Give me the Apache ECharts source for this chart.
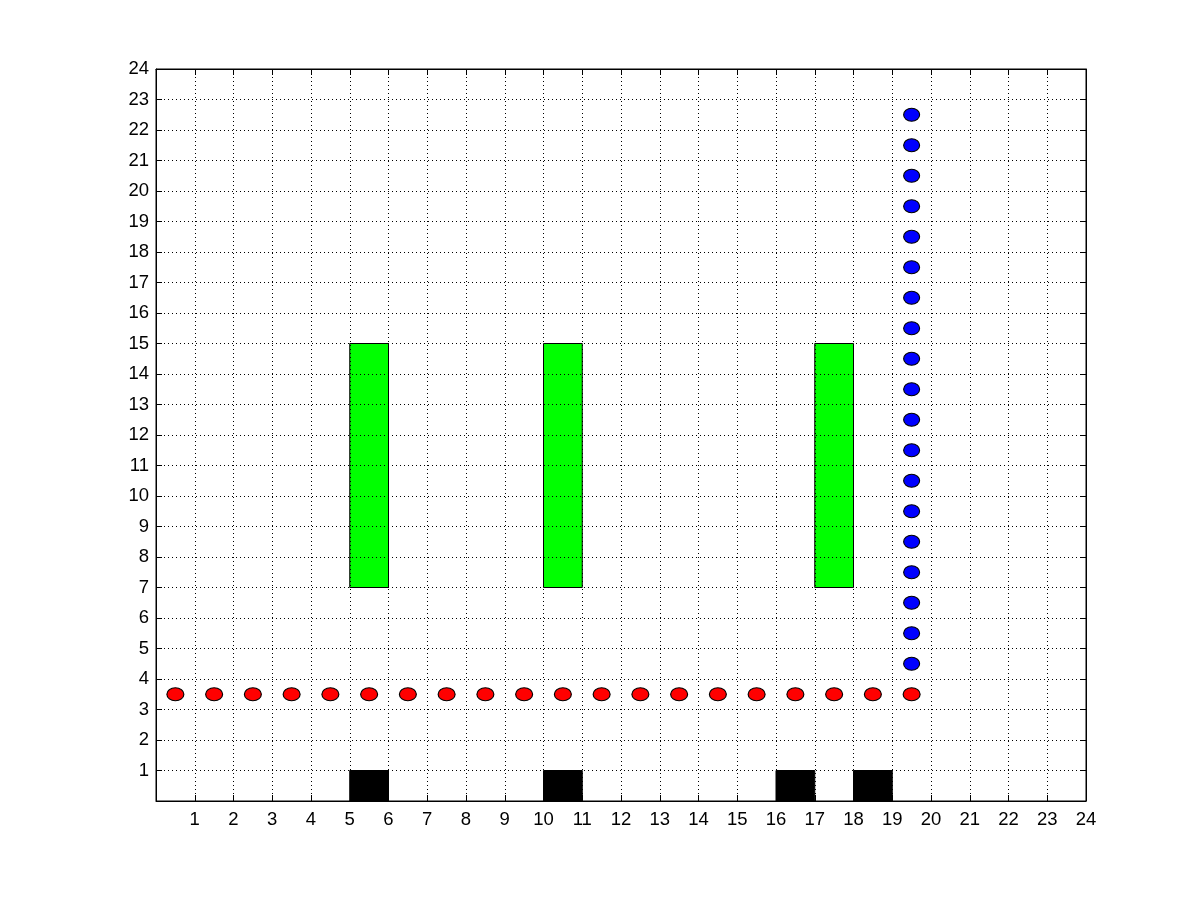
<!DOCTYPE html>
<html><head><meta charset="utf-8">
<script src="https://cdn.jsdelivr.net/npm/echarts@6/dist/echarts.min.js"></script>
<style>html,body{margin:0;padding:0;background:#fff}#c{width:1200px;height:900px}</style>
</head><body><div id="c"></div>
<script>
// Data
const redX = [0.5,1.5,2.5,3.5,4.5,5.5,6.5,7.5,8.5,9.5,10.5,11.5,12.5,13.5,14.5,15.5,16.5,17.5,18.5,19.5];
const redY = 3.5;
const blueX = 19.5;
const blueY = [4.5,5.5,6.5,7.5,8.5,9.5,10.5,11.5,12.5,13.5,14.5,15.5,16.5,17.5,18.5,19.5,20.5,21.5,22.5];
// rectangles: [x0, x1, y0, y1]
const greenRects = [[5,6,7,15],[10,11,7,15],[17,18,7,15]];
const blackRects = [[5,6,0,1],[10,11,0,1],[16,17,0,1],[18,19,0,1]];
const axisMin = 0, axisMax = 24, tickStep = 1;

const chart = echarts.init(document.getElementById('c'), null, {renderer:'canvas'});
const font = {color:'#000', fontSize:18.5, fontFamily:'Liberation Sans, Arial, sans-serif'};
const hideZero = v => v === 0 ? '' : String(v);

function rectSeries(rects, color) {
  return {
    type:'custom',
    data: rects,
    z: 3,
    renderItem: (params, api) => {
      const p0 = api.coord([api.value(0), api.value(3)]);
      const p1 = api.coord([api.value(1), api.value(2)]);
      return {
        type:'rect',
        shape:{x:p0[0], y:p0[1], width:p1[0]-p0[0], height:p1[1]-p0[1]},
        style:{fill:color, stroke:'#000', lineWidth:1}
      };
    },
    encode:{x:[0,1], y:[2,3]}
  };
}

function axis(extra) {
  return Object.assign({
    type:'value', min:axisMin, max:axisMax, interval:tickStep,
    axisLine:{show:true, onZero:false, lineStyle:{color:'#000', width:1}},
    axisTick:{show:true, inside:true, length:6, lineStyle:{color:'#000', width:1}},
    splitLine:{show:false}
  }, extra);
}

chart.setOption({
  animation:false,
  backgroundColor:'#fff',
  grid:{left:156, right:114, top:69, bottom:99, containLabel:false,
        show:true, borderColor:'#000', borderWidth:1, backgroundColor:'transparent'},
  xAxis:[
    axis({position:'bottom', z:5,
      axisLabel:Object.assign({formatter:hideZero, margin:9}, font),
      splitLine:{show:true, lineStyle:{color:'#000', type:[1,3], width:1}}}),
    axis({position:'top', z:5, axisLabel:{show:false}})
  ],
  yAxis:[
    axis({position:'left', z:5,
      axisLabel:Object.assign({formatter:hideZero, margin:7}, font),
      splitLine:{show:true, lineStyle:{color:'#000', type:[1,3], width:1}}}),
    axis({position:'right', z:5, axisLabel:{show:false}})
  ],
  series:[
    rectSeries(greenRects, '#00ff00'),
    rectSeries(blackRects, '#000000'),
    {
      type:'scatter', z:4,
      data: redX.map(x => [x, redY]),
      symbol:'circle', symbolSize:[17,13],
      itemStyle:{color:'#ff0000', borderColor:'#000', borderWidth:1, opacity:1}
    },
    {
      type:'scatter', z:4,
      data: blueY.map(y => [blueX, y]),
      symbol:'circle', symbolSize:[16,13],
      itemStyle:{color:'#0000ff', borderColor:'#000', borderWidth:1, opacity:1}
    }
  ]
});
</script></body></html>
